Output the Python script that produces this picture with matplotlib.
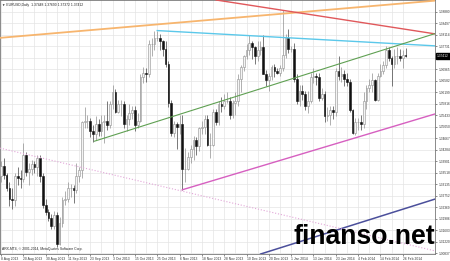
import numpy as np
import pandas as pd
import matplotlib.pyplot as plt
from matplotlib.transforms import blended_transform_factory

plt.rcParams['font.family'] = ['Liberation Sans', 'DejaVu Sans']

# EURUSD daily bars, 8 Aug 2013 .. 27 Feb 2014
dates = pd.bdate_range("2013-08-08", "2014-02-27")

opens = [
    1.3340, 1.3375, 1.3345, 1.3300, 1.3265, 1.3260, 1.3340, 1.3335, 1.3330, 1.3410, 1.3355, 1.3365, 1.3380, 1.3370, 1.3400, 1.3340, 1.3245,
    1.3220, 1.3200, 1.3175, 1.3210, 1.3115, 1.3185, 1.3260, 1.3265, 1.3300, 1.3300, 1.3295, 1.3340, 1.3360, 1.3520, 1.3525, 1.3525, 1.3490, 1.3480, 1.3515, 1.3490, 1.3520,
    1.3525, 1.3510, 1.3580, 1.3620, 1.3555, 1.3580, 1.3580, 1.3515, 1.3530, 1.3550, 1.3560, 1.3510, 1.3525, 1.3670, 1.3685, 1.3680, 1.3780, 1.3780, 1.3800, 1.3800, 1.3790, 1.3765, 1.3715,
    1.3585, 1.3485, 1.3515, 1.3505, 1.3515, 1.3365, 1.3365, 1.3405, 1.3430, 1.3460, 1.3440, 1.3500, 1.3505, 1.3530, 1.3445, 1.3445, 1.3555, 1.3520, 1.3580, 1.3575, 1.3590,
    1.3590, 1.3545, 1.3585, 1.3590, 1.3665, 1.3705, 1.3740, 1.3760, 1.3785, 1.3770, 1.3740, 1.3760, 1.3770, 1.3680, 1.3660, 1.3675, 1.3705, 1.3690, 1.3685, 1.3700, 1.3745, 1.3800,
    1.3765, 1.3765, 1.3665, 1.3590, 1.3625, 1.3615, 1.3575, 1.3590, 1.3670, 1.3675, 1.3670, 1.3600, 1.3615, 1.3540, 1.3545, 1.3560, 1.3555, 1.3690, 1.3675, 1.3680, 1.3665, 1.3655, 1.3560,
    1.3485, 1.3520, 1.3520, 1.3515, 1.3590, 1.3635, 1.3645, 1.3660, 1.3595, 1.3675, 1.3690, 1.3710, 1.3760, 1.3735, 1.3715, 1.3740, 1.3740, 1.3735, 1.3745,
]
highs = [
    1.3390, 1.3400, 1.3350, 1.3320, 1.3300, 1.3350, 1.3370, 1.3360, 1.3450, 1.3420, 1.3385, 1.3395, 1.3390, 1.3410, 1.3410, 1.3350, 1.3265,
    1.3230, 1.3215, 1.3225, 1.3220, 1.3205, 1.3270, 1.3290, 1.3320, 1.3315, 1.3310, 1.3385, 1.3370, 1.3525, 1.3570, 1.3545, 1.3535, 1.3510, 1.3540, 1.3530, 1.3545, 1.3545,
    1.3590, 1.3590, 1.3645, 1.3630, 1.3595, 1.3595, 1.3590, 1.3545, 1.3580, 1.3575, 1.3575, 1.3550, 1.3680, 1.3705, 1.3700, 1.3795, 1.3800, 1.3825, 1.3826, 1.3815, 1.3795, 1.3790, 1.3725,
    1.3595, 1.3525, 1.3520, 1.3545, 1.3545, 1.3435, 1.3420, 1.3445, 1.3475, 1.3470, 1.3505, 1.3525, 1.3545, 1.3545, 1.3485, 1.3565, 1.3565, 1.3590, 1.3605, 1.3615, 1.3620,
    1.3605, 1.3595, 1.3620, 1.3680, 1.3710, 1.3745, 1.3780, 1.3810, 1.3790, 1.3775, 1.3790, 1.3790, 1.3810, 1.3695, 1.3685, 1.3710, 1.3715, 1.3700, 1.3710, 1.3893, 1.3815, 1.3830,
    1.3775, 1.3785, 1.3680, 1.3645, 1.3645, 1.3625, 1.3625, 1.3685, 1.3700, 1.3685, 1.3685, 1.3635, 1.3625, 1.3570, 1.3575, 1.3575, 1.3700, 1.3740, 1.3705, 1.3695, 1.3685, 1.3665, 1.3565,
    1.3535, 1.3535, 1.3545, 1.3620, 1.3645, 1.3665, 1.3685, 1.3665, 1.3685, 1.3715, 1.3725, 1.3775, 1.3770, 1.3740, 1.3765, 1.3770, 1.3765, 1.3760, 1.3769,
]
lows = [
    1.3320, 1.3330, 1.3290, 1.3240, 1.3230, 1.3240, 1.3310, 1.3300, 1.3320, 1.3340, 1.3310, 1.3345, 1.3350, 1.3340, 1.3320, 1.3235, 1.3210,
    1.3190, 1.3165, 1.3165, 1.3105, 1.3110, 1.3170, 1.3245, 1.3255, 1.3270, 1.3250, 1.3285, 1.3320, 1.3335, 1.3500, 1.3500, 1.3470, 1.3455, 1.3460, 1.3475, 1.3475, 1.3450,
    1.3495, 1.3500, 1.3565, 1.3550, 1.3550, 1.3540, 1.3500, 1.3490, 1.3510, 1.3530, 1.3490, 1.3500, 1.3520, 1.3650, 1.3655, 1.3670, 1.3740, 1.3760, 1.3790, 1.3760, 1.3740, 1.3705, 1.3570,
    1.3475, 1.3470, 1.3430, 1.3480, 1.3295, 1.3320, 1.3360, 1.3385, 1.3395, 1.3410, 1.3425, 1.3480, 1.3480, 1.3440, 1.3400, 1.3440, 1.3510, 1.3510, 1.3555, 1.3565, 1.3585,
    1.3530, 1.3535, 1.3545, 1.3575, 1.3620, 1.3690, 1.3730, 1.3745, 1.3730, 1.3715, 1.3725, 1.3745, 1.3680, 1.3640, 1.3625, 1.3660, 1.3670, 1.3680, 1.3675, 1.3690, 1.3735, 1.3750,
    1.3755, 1.3655, 1.3580, 1.3575, 1.3595, 1.3560, 1.3550, 1.3585, 1.3650, 1.3645, 1.3590, 1.3595, 1.3520, 1.3525, 1.3510, 1.3530, 1.3540, 1.3660, 1.3655, 1.3640, 1.3640, 1.3555, 1.3480,
    1.3477, 1.3495, 1.3495, 1.3500, 1.3565, 1.3620, 1.3620, 1.3590, 1.3590, 1.3670, 1.3680, 1.3700, 1.3725, 1.3640, 1.3700, 1.3715, 1.3725, 1.3700, 1.3737,
]
closes = [
    1.3375, 1.3345, 1.3300, 1.3265, 1.3260, 1.3340, 1.3335, 1.3330, 1.3410, 1.3355, 1.3365, 1.3380, 1.3370, 1.3400, 1.3340, 1.3245, 1.3220,
    1.3200, 1.3175, 1.3210, 1.3115, 1.3185, 1.3260, 1.3265, 1.3300, 1.3300, 1.3295, 1.3340, 1.3360, 1.3520, 1.3525, 1.3525, 1.3490, 1.3480, 1.3515, 1.3490, 1.3520, 1.3525,
    1.3510, 1.3580, 1.3620, 1.3555, 1.3580, 1.3580, 1.3515, 1.3530, 1.3550, 1.3560, 1.3510, 1.3525, 1.3670, 1.3685, 1.3680, 1.3780, 1.3780, 1.3800, 1.3800, 1.3790, 1.3765, 1.3715, 1.3585,
    1.3485, 1.3515, 1.3505, 1.3515, 1.3365, 1.3365, 1.3405, 1.3430, 1.3460, 1.3440, 1.3500, 1.3505, 1.3530, 1.3445, 1.3445, 1.3555, 1.3520, 1.3580, 1.3575, 1.3590, 1.3590,
    1.3545, 1.3585, 1.3590, 1.3665, 1.3705, 1.3740, 1.3760, 1.3785, 1.3770, 1.3740, 1.3760, 1.3770, 1.3680, 1.3660, 1.3675, 1.3705, 1.3690, 1.3685, 1.3700, 1.3745, 1.3800, 1.3765,
    1.3765, 1.3665, 1.3590, 1.3625, 1.3615, 1.3575, 1.3590, 1.3670, 1.3675, 1.3670, 1.3600, 1.3615, 1.3540, 1.3545, 1.3560, 1.3555, 1.3690, 1.3675, 1.3680, 1.3665, 1.3655, 1.3560, 1.3485,
    1.3520, 1.3520, 1.3515, 1.3590, 1.3635, 1.3645, 1.3660, 1.3595, 1.3675, 1.3690, 1.3710, 1.3760, 1.3735, 1.3715, 1.3740, 1.3740, 1.3735, 1.3745, 1.3741,
]

price_ticks = [1.38880, 1.38497, 1.38114, 1.37731, 1.37348, 1.36965, 1.36582, 1.36199,
               1.35816, 1.35433, 1.35050, 1.34667, 1.34284, 1.33901, 1.33518, 1.33135,
               1.32752, 1.32369, 1.31986, 1.31603, 1.31220, 1.30837]
last_price = 1.37412
header = "\u25bc EURUSD,Daily  1.37448 1.37690 1.37372 1.37412"
footer = "ARX-MT4, \u00a9 2001-2014, MetaQuotes Software Corp."

# trendlines as (bar, price) anchor pairs
orange_line = [(0, 1.3802), (149.5, 1.3921)]
red_line = [(79.2, 1.3925), (155.6, 1.3815)]
navy_line = [(91.8, 1.3077), (155.6, 1.3264)]
dotted_line = [(-0.4, 1.3434), (155.6, 1.3091)]
cyan_line = [(56, 1.3826), (155.6, 1.3775)]
green_line = [(33.5, 1.3457), (155.6, 1.3816)]
pink_line = [(65, 1.3295), (155.6, 1.3548)]

o = np.array(opens)
h = np.array(highs)
l = np.array(lows)
c = np.array(closes)
x = np.arange(len(o))
up = c >= o

fig = plt.figure(figsize=(4.5, 2.61), dpi=100)
ax = fig.add_axes([0, 7 / 261, 435 / 450, 254 / 261])

# candles
ax.vlines(x[up], l[up], h[up], color='#909090', lw=0.5, zorder=2)
ax.vlines(x[~up], l[~up], h[~up], color='#444444', lw=0.5, zorder=2)
ax.bar(x[up], (c - o)[up], bottom=o[up], width=0.62, color='#f4f4f4',
       edgecolor='#909090', lw=0.4, zorder=3)
ax.bar(x[~up], (o - c)[~up], bottom=c[~up], width=0.62, color='#111111',
       edgecolor='#111111', lw=0.4, zorder=3)

# trendlines
ax.axline(*orange_line, color='#F7B56E', lw=1.3, zorder=4)
ax.axline(*red_line, color='#E0585B', lw=1.0, zorder=4)
ax.axline(*navy_line, color='#4B4F9B', lw=1.1, zorder=4)
ax.axline(*dotted_line, color='#E2A6D8', lw=0.8, ls=':', zorder=4)
for seg, col, w in [(cyan_line, '#5BC8EA', 1.0), (green_line, '#5FA052', 0.8),
                    (pink_line, '#D65FC0', 1.0)]:
    ax.plot([p[0] for p in seg], [p[1] for p in seg], color=col, lw=w, zorder=4)

ax.set_xlim(-0.36, 155.56)
ax.set_ylim(1.30807, 1.39280)

# axes / grid
ax.set_xticks(x[::8])
ax.set_xticklabels([f"{d.day} {d.strftime('%b %Y')}" for d in dates[::8]])
for lab in ax.get_xticklabels():
    lab.set_ha('left')
ax.set_xticks(x[4::8], minor=True)
ax.yaxis.tick_right()
ax.set_yticks(price_ticks)
# the label hidden behind the current-price box is left blank
ax.set_yticklabels(["" if abs(v - last_price) < 0.0015 else f"{v:.5f}"
                    for v in price_ticks])
ax.grid(True, which='both', color='#e4e4e4', lw=0.5, zorder=0)
ax.set_axisbelow(True)
ax.tick_params(axis='x', which='major', labelsize=2.4, length=1.5, width=0.4,
               pad=0.8, colors='#333333')
ax.tick_params(axis='x', which='minor', length=0)
ax.tick_params(axis='y', labelsize=2.3, length=1.5, width=0.4, pad=0.8,
               colors='#333333')
for s in ax.spines.values():
    s.set_color('#777777')
    s.set_linewidth(0.6)

ax.text(0.004, 0.988, header, transform=ax.transAxes, fontsize=2.4,
        va='top', ha='left', color='#222222')
ax.text(0.004, 0.01, footer, transform=ax.transAxes, fontsize=2.4,
        va='bottom', ha='left', color='#222222')

trans = blended_transform_factory(ax.transAxes, ax.transData)
ax.text(1.005, last_price, f"{last_price:.5f}", transform=trans, fontsize=2.3,
        color='white', va='center', ha='left', clip_on=False, zorder=6,
        bbox=dict(boxstyle='square,pad=0.4', fc='black', ec='black'))

fig.text(294 / 450, 17 / 261, "finanso.net", fontsize=19.2, fontweight='bold',
         family='Liberation Sans', va='baseline', ha='left', color='black',
         zorder=10)

fig.savefig('out.png', dpi=100)
